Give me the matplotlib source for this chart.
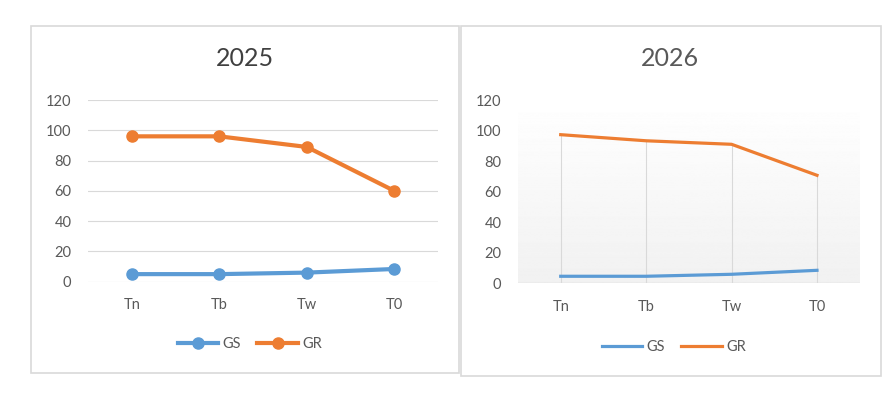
import matplotlib
matplotlib.use("Agg")
import matplotlib.pyplot as plt
import numpy as np
from matplotlib.patches import Rectangle
from matplotlib.lines import Line2D

categories = ["Tn", "Tb", "Tw", "T0"]
gs_2025 = [5, 5, 6, 8.4]
gr_2025 = [96, 96, 89, 60]
gs_2026 = [4.6, 4.6, 5.9, 8.5]
gr_2026 = [97.3, 93.3, 91, 70.7]
y_ticks = [0, 20, 40, 60, 80, 100, 120]

BLUE = "#5B9BD5"
ORANGE = "#ED7D31"
GRID = "#D9D9D9"
TXT = "#595959"

plt.rcParams['font.family'] = ['Lato', 'DejaVu Sans']

W, H = 894, 396
fig = plt.figure(figsize=(W / 100, H / 100), dpi=100)
fig.patch.set_facecolor("white")

def px_axes(x0, y0, x1, y1):
    return fig.add_axes([x0 / W, 1 - y1 / H, (x1 - x0) / W, (y1 - y0) / H])

# chart borders
for (x0, y0, x1, y1) in [(31, 26, 459, 373), (461, 26, 881, 376)]:
    fig.patches.append(Rectangle((x0 / W, 1 - y1 / H), (x1 - x0) / W, (y1 - y0) / H,
                                 transform=fig.transFigure, fill=False,
                                 edgecolor=GRID, linewidth=1.2))

x = np.arange(len(categories))

def style(ax):
    ax.set_xlim(-0.5, len(categories) - 0.5)
    ax.set_ylim(0, 120)
    ax.set_yticks(y_ticks)
    ax.set_xticks(x)
    ax.set_xticklabels(categories)
    for s in ax.spines.values():
        s.set_visible(False)
    ax.tick_params(axis='both', length=0, labelsize=10.5, colors=TXT)
    ax.tick_params(axis='y', pad=12)
    ax.tick_params(axis='x', pad=12)
    ax.set_facecolor("none")

# ---- 2025 ----
ax1 = px_axes(88, 100, 438, 281.7)
style(ax1)
for t in y_ticks:
    ax1.axhline(t, color=GRID, lw=0.8, zorder=0)
ax1.plot(x, gs_2025, color=BLUE, lw=3, marker='o', ms=8, label="GS", clip_on=False)
ax1.plot(x, gr_2025, color=ORANGE, lw=3, marker='o', ms=8, label="GR", clip_on=False)
fig.text(245 / W, 1 - 59 / H, "2025", ha='center', va='center', fontsize=18, color="#404040")
fig.legend(handles=[Line2D([], [], color=BLUE, lw=3, marker='o', ms=8),
                    Line2D([], [], color=ORANGE, lw=3, marker='o', ms=8)],
           labels=["GS", "GR"], loc='center', bbox_to_anchor=(250 / W, 1 - 344 / H),
           ncol=2, frameon=False, fontsize=10.5, handlelength=2.8,
           handletextpad=0.3, columnspacing=1.1, labelcolor=TXT)

# ---- 2026 ----
ax2 = px_axes(518, 100, 859.7, 283.3)
style(ax2)
grad = np.linspace(1.0, 0.945, 256).reshape(-1, 1)
ax2.imshow(grad, cmap='gray', vmin=0, vmax=1, aspect='auto',
           extent=(-0.5, len(categories) - 0.5, 0, 120), zorder=0)
ax2.set_xlim(-0.5, len(categories) - 0.5)
ax2.set_ylim(0, 120)
ax2.axhline(0, color=GRID, lw=1, zorder=1)
for i in range(len(categories)):
    ax2.vlines(x[i], 0, max(gs_2026[i], gr_2026[i]), color=GRID, lw=0.8, zorder=1)
ax2.plot(x, gs_2026, color=BLUE, lw=2.3, label="GS", zorder=3)
ax2.plot(x, gr_2026, color=ORANGE, lw=2.3, label="GR", zorder=3)
fig.text(670 / W, 1 - 59 / H, "2026", ha='center', va='center', fontsize=18, color="#595959")
fig.legend(handles=[Line2D([], [], color=BLUE, lw=2.3),
                    Line2D([], [], color=ORANGE, lw=2.3)],
           labels=["GS", "GR"], loc='center', bbox_to_anchor=(674 / W, 1 - 347 / H),
           ncol=2, frameon=False, fontsize=10.5, handlelength=2.8,
           handletextpad=0.3, columnspacing=1.1, labelcolor=TXT)

fig.savefig("out.png", dpi=100, facecolor="white")
